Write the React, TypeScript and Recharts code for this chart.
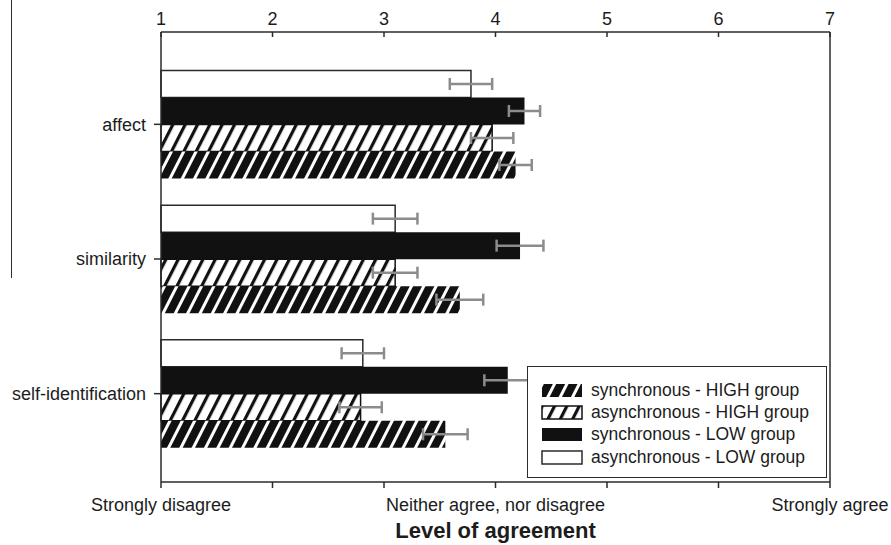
import React from "react";
import {
  BarChart,
  Bar,
  XAxis,
  YAxis,
  ErrorBar,
  Legend,
  ReferenceLine,
} from "recharts";

const categories = ["affect", "similarity", "self-identification"];

const asyncLow = [3.78, 3.1, 2.81];
const asyncLowErr = [0.19, 0.2, 0.19];
const syncLow = [4.26, 4.22, 4.11];
const syncLowErr = [0.14, 0.21, 0.21];
const asyncHigh = [3.97, 3.1, 2.79];
const asyncHighErr = [0.19, 0.2, 0.19];
const syncHigh = [4.18, 3.68, 3.55];
const syncHighErr = [0.145, 0.21, 0.2];

const scaleTicks = [1, 2, 3, 4, 5, 6, 7];
const bottomLabels = ["Strongly disagree", "", "", "Neither agree, nor disagree", "", "", "Strongly agree"];

// legend order as in the figure (reverse of bar order)
const legendItems = [
  { key: "syncHigh", label: "synchronous - HIGH group" },
  { key: "asyncHigh", label: "asynchronous - HIGH group" },
  { key: "syncLow", label: "synchronous - LOW group" },
  { key: "asyncLow", label: "asynchronous - LOW group" },
];

const data = categories.map((c, i) => ({
  category: c,
  asyncLow: asyncLow[i],
  asyncLowErr: asyncLowErr[i],
  syncLow: syncLow[i],
  syncLowErr: syncLowErr[i],
  asyncHigh: asyncHigh[i],
  asyncHighErr: asyncHighErr[i],
  syncHigh: syncHigh[i],
  syncHighErr: syncHighErr[i],
}));

const FONT = '"Liberation Sans", Arial, sans-serif';
const AXIS = "#2b2b2b";
const TEXT = "#1c1c1c";
const DARK = "#111";
const ERR = "#8c8c8c";
const TOP_MARGIN = 7;

const swatchStyle: Record<string, { fill: string; stroke?: string }> = {
  syncHigh: { fill: "url(#hatchDark)" },
  asyncHigh: { fill: "url(#hatchLight)", stroke: DARK },
  syncLow: { fill: DARK },
  asyncLow: { fill: "#fff", stroke: AXIS },
};

// top ticks point into the plot, labels sit above
const renderTopTick = (props: any) => {
  const { x, y, payload } = props;
  return (
    <g key={`top-${payload.value}`}>
      <line x1={x} x2={x} y1={y + TOP_MARGIN} y2={y + TOP_MARGIN + 5} stroke={AXIS} strokeWidth={1.5} />
      <text x={x} y={y} textAnchor="middle" fontSize={18} fill={TEXT} fontFamily={FONT}>
        {payload.value}
      </text>
    </g>
  );
};

const renderLegend = () => (
  <div
    style={{
      boxSizing: "border-box",
      width: 300,
      height: 112,
      border: `1.5px solid ${AXIS}`,
      background: "#fff",
      padding: "12px 0 0 13px",
      fontFamily: FONT,
      fontSize: 17.5,
      color: TEXT,
    }}
  >
    {legendItems.map((it) => (
      <div key={it.key} style={{ display: "flex", alignItems: "center", height: 22.3 }}>
        <svg width={42} height={15} style={{ marginRight: 8 }}>
          <rect
            x={1}
            y={1}
            width={40}
            height={13}
            fill={swatchStyle[it.key].fill}
            stroke={swatchStyle[it.key].stroke || "none"}
            strokeWidth={1.5}
          />
        </svg>
        <span style={{ whiteSpace: "nowrap" }}>{it.label}</span>
      </div>
    ))}
  </div>
);

export default function App() {
  return (
    <div style={{ position: "absolute", left: 0, top: 0, width: 891, height: 545, background: "#fff" }}>
      <div
        style={{
          position: "absolute",
          left: 11,
          top: 0,
          width: 0,
          height: 278,
          borderLeft: `1.5px solid ${AXIS}`,
        }}
      />
      <BarChart
        width={891}
        height={545}
        data={data}
        layout="vertical"
        margin={{ top: 2, right: 61, bottom: 0, left: 0 }}
        barCategoryGap="10%"
        barGap={0}
        style={{ fontFamily: FONT }}
      >
        <defs>
          <pattern id="hatchLight" patternUnits="userSpaceOnUse" width={11} height={11} patternTransform="rotate(27)">
            <rect width={11} height={11} fill="#fff" />
            <rect width={3.2} height={11} fill={DARK} />
          </pattern>
          <pattern id="hatchDark" patternUnits="userSpaceOnUse" width={11} height={11} patternTransform="rotate(27)">
            <rect width={11} height={11} fill={DARK} />
            <rect width={3} height={11} fill="#fff" />
          </pattern>
        </defs>
        <XAxis
          xAxisId="top"
          orientation="top"
          type="number"
          domain={[1, 7]}
          ticks={scaleTicks}
          height={30}
          tickSize={0}
          tickMargin={TOP_MARGIN}
          tickLine={false}
          axisLine={{ stroke: AXIS, strokeWidth: 1.5 }}
          tick={renderTopTick}
          interval={0}
          allowDataOverflow
        />
        <XAxis
          xAxisId="bottom"
          orientation="bottom"
          type="number"
          domain={[1, 7]}
          ticks={scaleTicks}
          height={63}
          tickSize={6}
          tickMargin={10}
          interval={0}
          tickFormatter={(v: number) => bottomLabels[scaleTicks.indexOf(v)] ?? ""}
          tick={{ fontSize: 18, fill: TEXT }}
          tickLine={{ stroke: AXIS, strokeWidth: 1.5 }}
          axisLine={{ stroke: AXIS, strokeWidth: 1.5 }}
          label={{
            value: "Level of agreement",
            position: "insideBottom",
            offset: 7,
            fontSize: 22,
            fontWeight: "bold",
            fill: TEXT,
          }}
        />
        <YAxis
          type="category"
          dataKey="category"
          width={161}
          padding={{ top: 25, bottom: 21 }}
          tickSize={7}
          tickMargin={8}
          tick={{ fontSize: 18, fill: TEXT }}
          tickLine={{ stroke: AXIS, strokeWidth: 1.5 }}
          axisLine={{ stroke: AXIS, strokeWidth: 1.5 }}
        />
        <ReferenceLine x={7} xAxisId="bottom" stroke={AXIS} strokeWidth={1.5} />
        <Bar dataKey="asyncLow" xAxisId="bottom" fill="#fff" stroke={AXIS} strokeWidth={1.5} isAnimationActive={false}>
          <ErrorBar dataKey="asyncLowErr" direction="x" width={6} stroke={ERR} strokeWidth={2.5} />
        </Bar>
        <Bar dataKey="syncLow" xAxisId="bottom" fill={DARK} isAnimationActive={false}>
          <ErrorBar dataKey="syncLowErr" direction="x" width={6} stroke={ERR} strokeWidth={2.5} />
        </Bar>
        <Bar
          dataKey="asyncHigh"
          xAxisId="bottom"
          fill="url(#hatchLight)"
          stroke={DARK}
          strokeWidth={1.5}
          isAnimationActive={false}
        >
          <ErrorBar dataKey="asyncHighErr" direction="x" width={6} stroke={ERR} strokeWidth={2.5} />
        </Bar>
        <Bar dataKey="syncHigh" xAxisId="bottom" fill="url(#hatchDark)" isAnimationActive={false}>
          <ErrorBar dataKey="syncHighErr" direction="x" width={6} stroke={ERR} strokeWidth={2.5} />
        </Bar>
        <Legend
          layout="vertical"
          align="center"
          verticalAlign="middle"
          content={renderLegend}
          wrapperStyle={{ left: 527, top: 366, width: 300, height: 112 }}
        />
      </BarChart>
    </div>
  );
}
